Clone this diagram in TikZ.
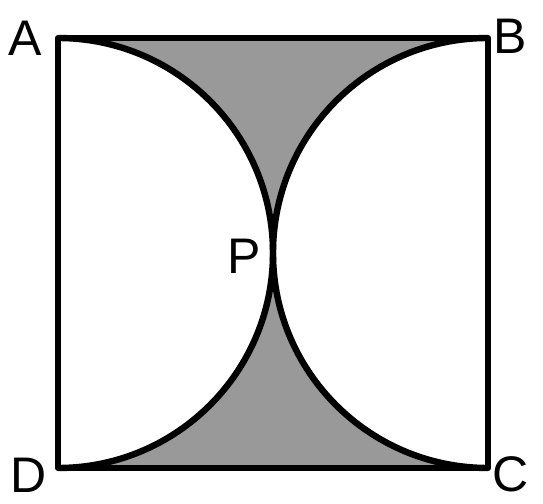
\documentclass[tikz,border=0pt]{standalone}
\usepackage{fontspec}
\setmainfont{Liberation Sans}
\usepackage{tikz}

\begin{document}
\begin{tikzpicture}[
  x=0.5pt, y=0.5pt,
  lbl/.style={inner sep=0pt, font=\fontsize{25}{30}\selectfont},
  edge/.style={line width=3.2pt, line join=round},
  shade/.style={fill=black!40}
]
\useasboundingbox (0,0) rectangle (543,504);
% corners and touching point
\coordinate (A) at (58,466);
\coordinate (B) at (488,466);
\coordinate (C) at (488,36);
\coordinate (D) at (58,36);
\coordinate (P) at (273,251);
% shaded parts
\fill[shade] (A) -- (B) arc[start angle=90, end angle=180, radius=215]
  arc[start angle=0, end angle=90, radius=215] -- cycle;
\fill[shade] (D) -- (C) arc[start angle=-90, end angle=-180, radius=215]
  arc[start angle=0, end angle=-90, radius=215] -- cycle;
% square and semicircles
\draw[edge] (A) -- (B) -- (C) -- (D) -- cycle;
\draw[edge] (A) arc[start angle=90, end angle=-90, radius=215];
\draw[edge] (B) arc[start angle=90, end angle=270, radius=215];
\node[lbl] (la) at (25,466) {A};
\node[lbl] (lb) at (510,468) {B};
\node[lbl] (lc) at (511,30) {C};
\node[lbl] (ld) at (29,29) {D};
\node[lbl] (lp) at (244,248) {P};
\end{tikzpicture}
\end{document}
